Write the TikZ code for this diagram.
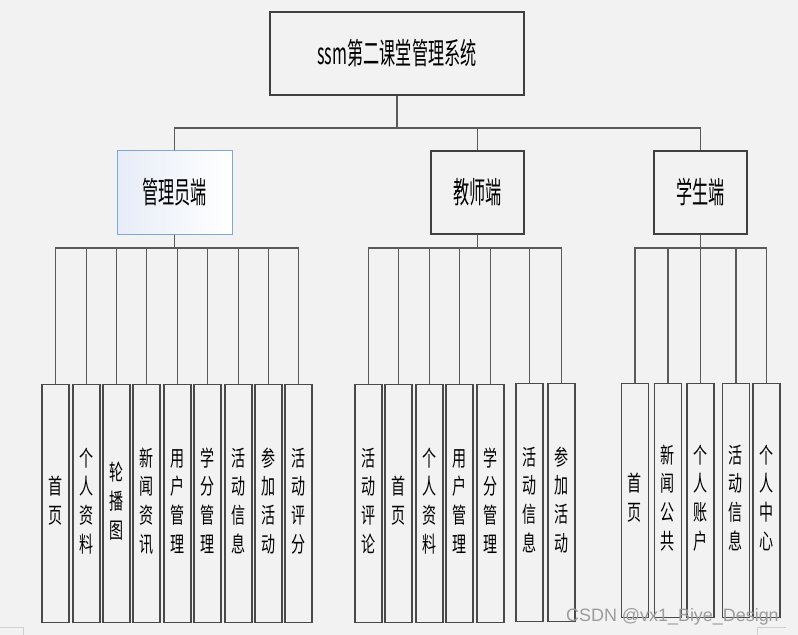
\documentclass[tikz,border=0pt]{standalone}
\usepackage{fontspec}
\usepackage{graphicx}
\newfontfamily\cjk{Noto Sans CJK SC}
\newfontfamily\wmfont{Liberation Sans}
\definecolor{bgc}{HTML}{F2F2F2}
\definecolor{linec}{HTML}{5A5A5A}
\definecolor{boxc}{HTML}{404040}
\definecolor{leafc}{HTML}{4A4A4A}
\definecolor{adminb}{HTML}{7FA8D6}
\definecolor{admina}{HTML}{E6ECF7}
\definecolor{wmc}{HTML}{9C9C9C}
\definecolor{framec}{HTML}{CFCFCF}
\newcommand{\vtext}[1]{\scalebox{0.64}[1]{\fontsize{22}{29}\selectfont\begin{tabular}{@{}c@{}}#1\end{tabular}}}
\newcommand{\htext}[1]{\scalebox{0.54}[1]{\fontsize{30}{30}\selectfont #1}}
\tikzset{
  topbox/.style={draw=boxc, line width=1.2bp, fill=bgc, minimum width=254bp, minimum height=83bp, inner sep=0pt, font=\cjk},
  midbox/.style={draw=boxc, line width=1.2bp, fill=bgc, minimum width=93bp, minimum height=83bp, inner sep=0pt, font=\cjk},
  adminbox/.style={draw=adminb, line width=1bp, left color=admina, right color=white, minimum width=115bp, minimum height=83bp, inner sep=0pt, font=\cjk},
  leaf/.style={draw=leafc, line width=1.2bp, fill=bgc, minimum width=27bp, inner sep=0pt, font=\cjk, anchor=north},
  conn/.style={draw=linec, line width=1.1bp},
}
\begin{document}
\begin{tikzpicture}[x=1bp,y=-1bp]
\fill[bgc] (0,0) rectangle (798,635);
\useasboundingbox (0,0) rectangle (798,635);

% top
\node[topbox] (root) at (397,53.5) {\htext{ssm第二课堂管理系统}};
\coordinate (busT) at (397,128);

% level 2
\node[adminbox] (admin) at (174.5,192.5) {\htext{管理员端}};
\node[midbox] (teacher) at (477.5,192.5) {\htext{教师端}};
\node[midbox] (student) at (700.5,192.5) {\htext{学生端}};

\draw[conn] (root.south) -- (busT);
\draw[conn] (admin.north) |- (busT);
\draw[conn] (teacher.north) |- (busT);
\draw[conn] (student.north) |- (busT);

\coordinate (busA) at (174.5,248);
\coordinate (busB) at (477.5,248);
\coordinate (busC) at (700.5,248);
\draw[conn] (admin.south) -- (busA);
\draw[conn] (teacher.south) -- (busB);
\draw[conn] (student.south) -- (busC);

% admin leaves
\node[leaf, minimum height=238bp] (a1) at (55.5,384) {\vtext{首\\页}};
\node[leaf, minimum height=238bp] (a2) at (86.5,384) {\vtext{个\\人\\资\\料}};
\node[leaf, minimum height=238bp] (a3) at (116.5,384) {\vtext{轮\\播\\图}};
\node[leaf, minimum height=238bp] (a4) at (146.5,384) {\vtext{新\\闻\\资\\讯}};
\node[leaf, minimum height=238bp] (a5) at (177.5,384) {\vtext{用\\户\\管\\理}};
\node[leaf, minimum height=238bp] (a6) at (207.5,384) {\vtext{学\\分\\管\\理}};
\node[leaf, minimum height=238bp] (a7) at (238.5,384) {\vtext{活\\动\\信\\息}};
\node[leaf, minimum height=238bp] (a8) at (268.5,384) {\vtext{参\\加\\活\\动}};
\node[leaf, minimum height=238bp] (a9) at (298.5,384) {\vtext{活\\动\\评\\分}};
\foreach \n in {a1,a2,a3,a4,a5,a6,a7,a8,a9} \draw[conn] (\n.north) |- (busA);

% teacher leaves
\node[leaf, minimum height=238bp] (t1) at (368.5,384) {\vtext{活\\动\\评\\论}};
\node[leaf, minimum height=238bp] (t2) at (398.5,384) {\vtext{首\\页}};
\node[leaf, minimum height=238bp] (t3) at (429.5,384) {\vtext{个\\人\\资\\料}};
\node[leaf, minimum height=238bp] (t4) at (459.5,384) {\vtext{用\\户\\管\\理}};
\node[leaf, minimum height=238bp] (t5) at (490.5,384) {\vtext{学\\分\\管\\理}};
\node[leaf, minimum height=238bp] (t6) at (529.5,383) {\vtext{活\\动\\信\\息}};
\node[leaf, minimum height=238bp] (t7) at (561.5,383) {\vtext{参\\加\\活\\动}};
\foreach \n in {t1,t2,t3,t4,t5,t6,t7} \draw[conn] (\n.north) |- (busB);

% student leaves
\node[leaf, minimum height=234bp] (s1) at (635,383) {\vtext{首\\页}};
\node[leaf, minimum height=234bp] (s2) at (668,383) {\vtext{新\\闻\\公\\共}};
\node[leaf, minimum height=234bp] (s3) at (700.5,383) {\vtext{个\\人\\账\\户}};
\node[leaf, minimum height=234bp] (s4) at (736,383) {\vtext{活\\动\\信\\息}};
\node[leaf, minimum height=234bp] (s5) at (766.5,383) {\vtext{个\\人\\中\\心}};
\foreach \n in {s1,s2,s3,s4,s5} \draw[conn] (\n.north) |- (busC);

% frame remnants
\draw[framec, line width=0.8bp] (0,627) -- (23,627) -- (23,635);
\draw[framec, line width=0.8bp] (757,635) -- (757,627) -- (786,627);

% watermark
\node[font=\wmfont\fontsize{18}{18}\selectfont, text=wmc, anchor=base west, inner sep=0pt] (wm) at (566,621) {CSDN @vx1\_Biye\_Design};
\end{tikzpicture}
\end{document}
